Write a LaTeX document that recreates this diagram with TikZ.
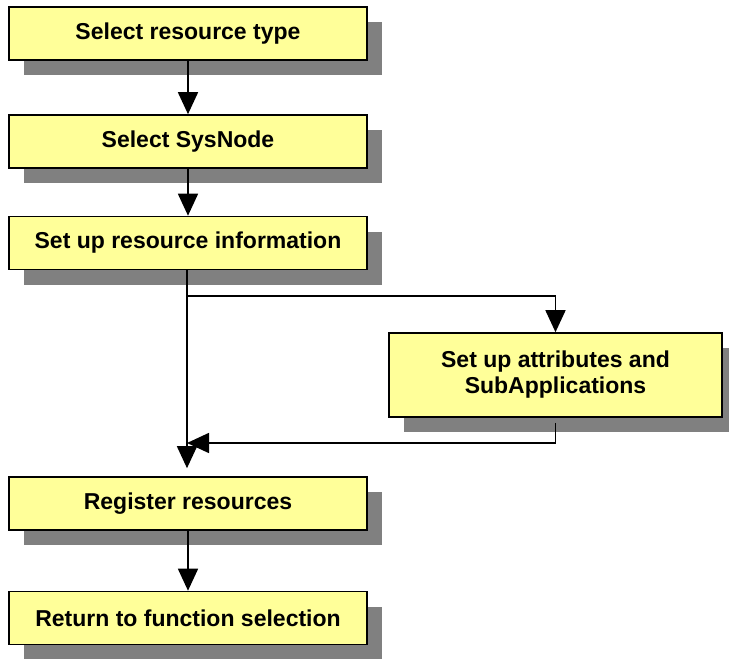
\documentclass[tikz,border=0pt]{standalone}
\usepackage{fontspec}
\setmainfont{Liberation Sans}
\usetikzlibrary{arrows.meta,shadows}
\definecolor{boxyellow}{HTML}{FFFF99}
\definecolor{shadowgray}{HTML}{808080}
\begin{document}
\begin{tikzpicture}[x=1pt,y=-1pt,
  stepbox/.style={draw=black,line width=1.6pt,fill=boxyellow,
    minimum width=358pt,minimum height=53pt,inner sep=0pt,align=center,
    font=\fontsize{23}{26}\selectfont\bfseries,
    drop shadow={shadow xshift=15pt,shadow yshift=-15pt,fill=shadowgray,opacity=1}},
  flow/.style={line width=1.6pt,-{Triangle[width=20pt,length=22pt]}}]
\useasboundingbox (0,0) rectangle (729,659);
% main column
\node[stepbox] (type) at (188,33.5) {Select resource type};
\node[stepbox] (sysnode) at (188,141.5) {Select SysNode};
\node[stepbox] (info) at (188,243) {Set up resource information};
\node[stepbox] (register) at (188,503.5) {Register resources};
\node[stepbox] (return) at (188,618) {Return to function selection};
% side branch
\node[stepbox,minimum width=333pt,minimum height=84pt] (attrib) at (555.5,375)
  {Set up attributes and\\SubApplications};
\coordinate (split) at (187,296);
\coordinate (merge) at (187,443);
\draw[flow] (type) -- (sysnode);
\draw[flow] (sysnode) -- (info);
\draw[flow,shorten >=8pt] (info.south -| split) -- (register.north -| split);
\draw[flow] (split) -| (attrib.north);
\draw[flow,shorten <=5pt] (attrib.south) |- (merge);
\draw[flow] (register) -- (return);
\end{tikzpicture}
\end{document}
